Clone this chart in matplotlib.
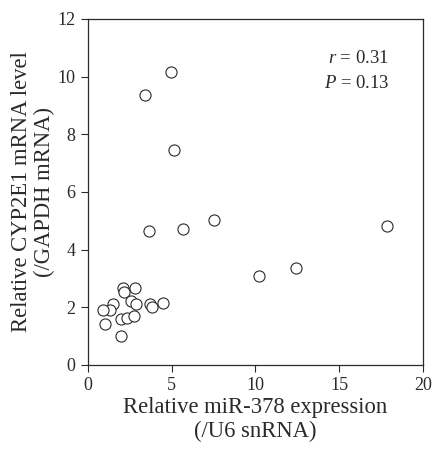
import matplotlib
matplotlib.use('Agg')
import matplotlib.pyplot as plt

plt.rcParams['font.family'] = ['Liberation Serif', 'DejaVu Serif']
plt.rcParams['mathtext.fontset'] = 'custom'
plt.rcParams['mathtext.rm'] = 'Liberation Serif'
plt.rcParams['mathtext.it'] = 'Liberation Serif:italic'

# relative miR-378 expression (/U6 snRNA)
mir378 = [4.94, 3.40, 5.15, 3.64, 5.69, 7.54, 17.83, 10.19, 12.40,
          2.09, 2.15, 2.83, 2.59, 2.85, 1.47, 1.31, 0.92, 1.01, 1.99,
          2.31, 2.77, 1.97, 3.70, 3.82, 4.46]
# relative CYP2E1 mRNA (/GAPDH mRNA)
cyp2e1 = [10.16, 9.37, 7.45, 4.63, 4.71, 5.02, 4.82, 3.10, 3.37,
          2.66, 2.52, 2.66, 2.23, 2.13, 2.12, 1.92, 1.90, 1.42, 1.60,
          1.63, 1.71, 1.00, 2.13, 2.01, 2.14]

ink = '#2a2a2a'

fig = plt.figure(figsize=(4.36, 4.5), dpi=100)
ax = fig.add_axes([0.202, 0.189, 0.768, 0.769])

ax.plot(mir378, cyp2e1, 'o', mfc='white', mec=ink, mew=0.8, ms=8)

ax.set_xlim(0, 20)
ax.set_ylim(0, 12)
ax.set_xticks([0, 5, 10, 15, 20])
ax.set_yticks([0, 2, 4, 6, 8, 10, 12])
ax.tick_params(direction='out', length=5, width=0.8, colors=ink,
               labelsize=13, pad=4)
for s in ax.spines.values():
    s.set_color(ink)
    s.set_linewidth(0.9)

ax.set_xlabel('Relative miR-378 expression\n(/U6 snRNA)', fontsize=16.3,
              color=ink, linespacing=1.15, labelpad=2)
ax.set_ylabel('Relative CYP2E1 mRNA level\n(/GAPDH mRNA)', fontsize=16.3,
              color=ink, linespacing=1.1)
ax.yaxis.set_label_coords(-0.1, 0.5)

ax.text(0.9, 0.885, '$r$ = 0.31', transform=ax.transAxes, ha='right',
        va='center', fontsize=13.5, color=ink)
ax.text(0.9, 0.812, '$P$ = 0.13', transform=ax.transAxes, ha='right',
        va='center', fontsize=13.5, color=ink)

fig.savefig('out.png', dpi=100, facecolor='white')
